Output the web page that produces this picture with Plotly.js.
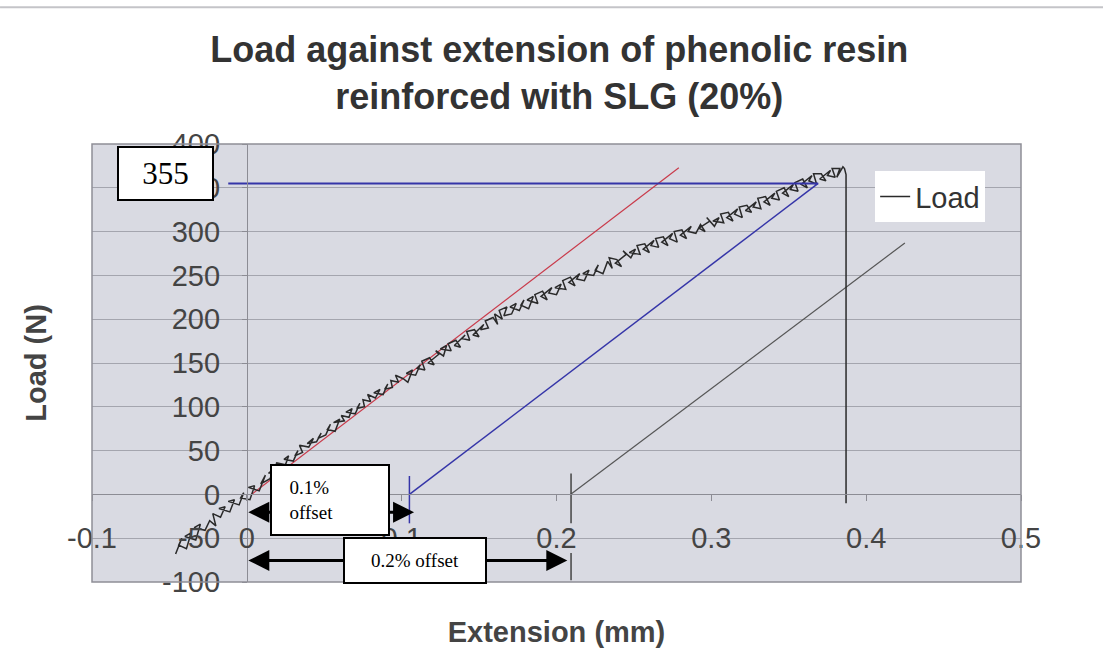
<!DOCTYPE html>
<html>
<head>
<meta charset="utf-8">
<script src="https://cdn.plot.ly/plotly-3.0.1.min.js"></script>
<style>html,body{margin:0;padding:0;background:#fff;}#chart{width:1103px;height:661px;}</style>
</head>
<body>
<div id="chart"></div>
<script>
const extension = [
-0.046,-0.042,-0.044,-0.039,-0.036,-0.040,-0.033,-0.030,-0.034,-0.027,-0.024,-0.020,-0.022,-0.017,-0.014,-0.018,-0.011,-0.008,-0.012,-0.005,-0.002,-0.004,0.002,0.005,0.001,0.008,
0.012,0.009,0.015,0.018,0.014,0.021,0.019,0.025,0.027,0.024,0.030,0.033,0.031,0.036,0.034,0.040,0.043,0.039,0.045,0.048,0.046,0.051,
0.054,0.052,0.057,0.060,0.056,0.063,0.061,0.066,0.068,0.064,0.070,0.073,0.071,0.076,0.075,0.080,0.078,0.083,0.086,0.082,0.088,0.091,0.089,0.094,0.093,0.098,0.096,0.101,
0.104,0.107,0.103,0.109,0.112,0.110,0.115,0.113,0.118,0.121,0.117,0.124,0.122,0.127,0.129,0.125,0.132,0.130,0.135,0.138,0.134,0.141,0.139,0.144,0.142,0.147,0.150,0.146,0.153,0.151,0.156,0.154,0.159,0.162,
0.160,0.165,0.163,0.168,0.166,0.171,0.174,0.170,0.176,0.179,0.177,0.182,0.185,0.181,0.188,0.186,0.191,0.194,0.190,0.197,0.195,0.200,0.203,0.199,0.206,0.204,0.209,0.212,0.208,0.215,0.213,0.218,0.221,0.217,0.224,0.227,0.225,0.230,
0.233,0.236,0.234,0.239,0.242,0.238,0.245,0.243,0.248,0.251,0.247,0.254,0.252,0.257,0.260,0.256,0.263,0.261,0.266,0.264,0.269,0.272,0.268,0.275,0.273,0.278,0.276,0.281,0.284,0.280,0.287,0.285,0.290,
0.293,0.296,0.292,0.299,0.297,0.302,0.305,0.301,0.308,0.306,0.311,0.314,0.310,0.317,0.315,0.320,0.318,0.323,0.326,0.322,0.329,0.327,0.332,0.330,0.335,0.338,0.334,0.341,0.339,0.344,0.342,0.347,0.350,0.346,0.353,0.351,0.356,0.354,0.359,0.362,0.358,0.365,0.363,0.368,0.366,0.371,0.374,0.370,0.377,0.375,0.380,0.378,0.383,0.381,0.385,0.386,0.387,0.387,0.387
];
const load = [
-68,-50,-58,-62,-44,-48,-52,-34,-38,-41,-30,-36,-22,-26,-14,-16,-20,-6,-8,-12,2,-4,-6,10,8,4,
22,12,18,30,24,28,36,34,44,40,38,50,44,48,56,54,64,58,60,70,64,68,
80,74,72,86,82,84,90,88,98,94,92,104,98,100,108,106,114,110,120,116,114,126,120,122,130,128,136,132,
128,142,138,136,148,144,142,152,156,148,150,160,164,158,170,166,164,172,176,168,170,182,178,176,186,188,180,182,194,188,190,198,202,194,
206,200,210,214,204,206,218,214,210,222,216,212,226,222,218,228,232,222,226,236,230,228,240,236,234,244,248,238,242,252,246,244,256,252,250,262,256,252,
266,258,270,268,260,264,274,278,270,280,276,274,284,286,276,280,290,284,282,292,294,284,288,298,292,288,300,302,292,296,306,300,298,
308,300,304,312,316,306,316,312,310,320,322,312,316,326,320,316,328,330,322,324,334,328,326,338,340,330,334,344,338,336,346,350,340,344,354,348,346,356,360,350,354,364,358,354,366,366,358,360,370,364,362,372,372,362,374,372,365,200,-10
];

// Construction lines drawn on the chart
const elasticX = [0.003, 0.279];   const elasticY = [0, 373];
const offset1X = [0.105, 0.369];   const offset1Y = [0, 355];
const offset2X = [0.209, 0.425];   const offset2Y = [0, 287];
const yieldX   = [-0.012, 0.369];  const yieldY   = [355, 355];
const mark1X   = [0.105, 0.105];   const mark1Y   = [21, -33];
const mark2X   = [0.2094, 0.2094, null, 0.2094, 0.2094];
const mark2Y   = [24, -33, null, -67, -98];

// Axis ticks
const xTickVals = [-0.1, 0, 0.1, 0.2, 0.3, 0.4, 0.5];
const xTickText = ['-0.1', '0', '0.1', '0.2', '0.3', '0.4', '0.5'];
const yTickVals = [-100, -50, 0, 50, 100, 150, 200, 250, 300, 350, 400];
const yTickText = ['-100', '-50', '0', '50', '100', '150', '200', '250', '300', '350', '400'];

// Callout labels
const yieldLabel = '355';
const offset1Label = '&nbsp;&nbsp;0.1%<br>&nbsp;&nbsp;offset';
const offset2Label = '0.2% offset';

const SANS = 'Liberation Sans, Arial, sans-serif';
const SERIF = 'Liberation Serif, Times New Roman, serif';

const traces = [
  {x: elasticX, y: elasticY, mode: 'lines', line: {color: '#c93a4a', width: 1.2}, showlegend: false, hoverinfo: 'skip'},
  {x: offset2X, y: offset2Y, mode: 'lines', line: {color: '#555555', width: 1.2}, showlegend: false, hoverinfo: 'skip'},
  {x: mark2X, y: mark2Y, mode: 'lines', line: {color: '#444444', width: 1.5}, showlegend: false, hoverinfo: 'skip'},
  {x: extension, y: load, mode: 'lines', name: 'Load', line: {color: '#2a2a2a', width: 1.5}},
  {x: yieldX, y: yieldY, mode: 'lines', line: {color: '#3535a8', width: 2}, showlegend: false, hoverinfo: 'skip'},
  {x: offset1X, y: offset1Y, mode: 'lines', line: {color: '#3535a8', width: 1.5}, showlegend: false, hoverinfo: 'skip'},
  {x: mark1X, y: mark1Y, mode: 'lines', line: {color: '#3535a8', width: 1.5}, showlegend: false, hoverinfo: 'skip'}
];

const layout = {
  width: 1103, height: 661,
  margin: {l: 92, r: 82, t: 144, b: 79},
  paper_bgcolor: '#ffffff',
  plot_bgcolor: '#d9dae2',
  font: {family: SANS, color: '#444'},
  title: {
    text: 'Load against extension of phenolic resin<br>reinforced with SLG (20%)',
    font: {family: SANS, size: 36, color: '#333', weight: 'bold'},
    xref: 'paper', x: 0.503, xanchor: 'center',
    yref: 'container', y: 0.906, yanchor: 'middle'
  },
  xaxis: {
    range: [-0.1, 0.5], anchor: 'free', position: 0.2,
    tickmode: 'array', tickvals: xTickVals, ticktext: xTickText,
    showgrid: false, zeroline: false,
    showline: true, linecolor: '#8c8c94', linewidth: 1,
    ticks: 'outside', ticklen: 6, tickcolor: '#8c8c94',
    tickfont: {family: SANS, size: 29, color: '#444'},
    ticklabelstandoff: 12,
    title: {text: 'Extension (mm)', font: {family: SANS, size: 29, color: '#444', weight: 'bold'}, standoff: 68},
    automargin: false
  },
  yaxis: {
    range: [-100, 400], anchor: 'free', position: 1/6,
    tickmode: 'array', tickvals: yTickVals, ticktext: yTickText,
    showgrid: true, gridcolor: '#a4a5ae', gridwidth: 1,
    zeroline: false,
    showline: true, linecolor: '#8c8c94', linewidth: 1,
    ticks: 'outside', ticklen: 5, tickcolor: '#8c8c94',
    tickfont: {family: SANS, size: 29, color: '#444'},
    ticklabelstandoff: 16,
    title: {text: 'Load (N)', font: {family: SANS, size: 29, color: '#444', weight: 'bold'}, standoff: 105},
    automargin: false
  },
  showlegend: true,
  legend: {
    x: 0.843, y: 0.938, xanchor: 'left', yanchor: 'top',
    bgcolor: '#ffffff', borderwidth: 0,
    font: {family: SANS, size: 29, color: '#333'}
  },
  shapes: [
    {type: 'rect', xref: 'paper', yref: 'paper', x0: 0, x1: 1, y0: 0, y1: 1, line: {color: '#8e8e96', width: 1.5}, layer: 'above'},
    {type: 'line', xref: 'paper', yref: 'paper', x0: -0.099, x1: 1.09, y0: 1.312, y1: 1.312, line: {color: '#c4c4c8', width: 2}}
  ],
  annotations: [
    {x: 0.108, y: -20.3, ax: 0, ay: -20.3, xref: 'x', yref: 'y', axref: 'x', ayref: 'y', text: '', showarrow: true,
     arrowhead: 2, arrowside: 'end+start', arrowsize: 1.4, arrowwidth: 3, arrowcolor: '#000', standoff: 0, startstandoff: 0},
    {x: 0.207, y: -75.5, ax: 0, ay: -75.5, xref: 'x', yref: 'y', axref: 'x', ayref: 'y', text: '', showarrow: true,
     arrowhead: 2, arrowside: 'end+start', arrowsize: 1.4, arrowwidth: 3, arrowcolor: '#000', standoff: 0, startstandoff: 0},
    {x: -0.0524, y: 366, xref: 'x', yref: 'y', text: yieldLabel, showarrow: false,
     font: {family: SERIF, size: 31, color: '#000'}, bgcolor: '#fff', bordercolor: '#000', borderwidth: 2, borderpad: 0, width: 93, height: 51},
    {x: 0.054, y: -6.6, xref: 'x', yref: 'y', text: offset1Label, showarrow: false, align: 'left',
     font: {family: SERIF, size: 19, color: '#000'}, bgcolor: '#fff', bordercolor: '#000', borderwidth: 2, borderpad: 8, width: 100, height: 52},
    {x: 0.1084, y: -75.5, xref: 'x', yref: 'y', text: offset2Label, showarrow: false,
     font: {family: SERIF, size: 19, color: '#000'}, bgcolor: '#fff', bordercolor: '#000', borderwidth: 2, borderpad: 8, width: 124, height: 27}
  ]
};

Plotly.newPlot('chart', traces, layout, {displayModeBar: false, staticPlot: true});
</script>
</body>
</html>
